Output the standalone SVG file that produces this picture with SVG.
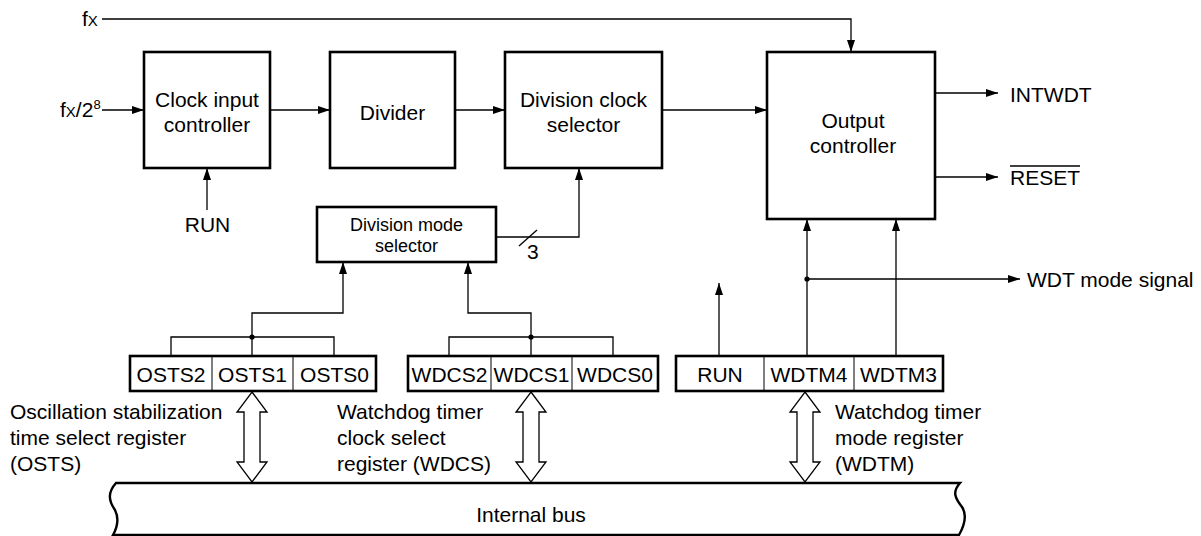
<svg xmlns="http://www.w3.org/2000/svg" width="1201" height="536" viewBox="0 0 1201 536">
<style>
text{font-family:"Liberation Sans",Arial,sans-serif;font-size:21px;fill:#000}
.c{text-anchor:middle}
.blk{fill:#fff;stroke:#000;stroke-width:2.6}
.reg{fill:#fff;stroke:#000;stroke-width:2.6}
.div{stroke:#000;stroke-width:1}
.ln{fill:none;stroke:#000;stroke-width:1.3}
.arr{fill:none;stroke:#000;stroke-width:1.3;marker-end:url(#ah)}
.dbl{fill:#fff;stroke:#000;stroke-width:1.3}
.sm{font-size:18px}
</style>
<defs>
<marker id="ah" markerUnits="userSpaceOnUse" markerWidth="12" markerHeight="8" refX="12" refY="4" orient="auto">
<path d="M0,0 L12,4 L0,8 z" fill="#000"/>
</marker>
</defs>

<g id="connectors">
<path class="arr" d="M102,19 H851 V52"/>
<path class="arr" d="M102,110 H144"/>
<path class="arr" d="M270,110 H330"/>
<path class="arr" d="M455,110 H505"/>
<path class="arr" d="M662,110 H767"/>
<path class="arr" d="M935,93 H998"/>
<path class="arr" d="M935,177 H998"/>
<path class="arr" d="M207,210 V168"/>
<path class="arr" d="M496,237 H579 V168"/>
<path class="ln" d="M519,246 L537,230"/>
<path class="ln" d="M171,356 V337 H334 V356 M252,356 V337"/>
<path class="arr" d="M252,337 V313 H343 V262"/>
<path class="ln" d="M449,356 V337 H613 V356 M531,356 V337"/>
<path class="arr" d="M531,337 V313 H468 V262"/>
<path class="arr" d="M719,356 V283"/>
<path class="arr" d="M807,356 V219"/>
<path class="arr" d="M896,356 V219"/>
<path class="arr" d="M807,279 H1020"/>
<circle cx="252" cy="337" r="2.6" fill="#000"/>
<circle cx="531" cy="337" r="2.6" fill="#000"/>
<circle cx="807" cy="279" r="2.6" fill="#000"/>
<polygon class="dbl" points="252,392 267,412 260,412 260,462 267,462 252,482 237,462 244,462 244,412 237,412"/>
<polygon class="dbl" points="531,392 546,412 539,412 539,462 546,462 531,482 516,462 523,462 523,412 516,412"/>
<polygon class="dbl" points="805,392 820,412 813,412 813,462 820,462 805,482 790,462 797,462 797,412 790,412"/>
</g>

<g id="labels">
<text x="82" y="26">f<tspan font-size="15">X</tspan></text>
<text x="60" y="117">f<tspan font-size="15">X</tspan>/2<tspan font-size="13" dy="-8">8</tspan></text>
<text x="1010" y="102">INTWDT</text>
<text x="1010" y="185">RESET</text>
<line x1="1010" y1="166" x2="1080" y2="166" stroke="#000" stroke-width="1.3"/>
<text class="c" x="207.5" y="232">RUN</text>
<text x="527" y="259">3</text>
<text x="1027" y="287">WDT mode signal</text>
<text x="10" y="419">Oscillation stabilization</text>
<text x="10" y="445">time select register</text>
<text x="10" y="471">(OSTS)</text>
<text x="337" y="419">Watchdog timer</text>
<text x="337" y="445">clock select</text>
<text x="337" y="471">register (WDCS)</text>
<text x="835" y="419">Watchdog timer</text>
<text x="835" y="445">mode register</text>
<text x="835" y="471">(WDTM)</text>
</g>

<g id="clock-input-controller">
<rect class="blk" x="144" y="52" width="126" height="116"/>
<text class="c" x="207" y="107">Clock input</text>
<text class="c" x="207" y="132">controller</text>
</g>
<g id="divider">
<rect class="blk" x="330" y="52" width="125" height="116"/>
<text class="c" x="392.5" y="120">Divider</text>
</g>
<g id="division-clock-selector">
<rect class="blk" x="505" y="52" width="157" height="116"/>
<text class="c" x="583.5" y="107">Division clock</text>
<text class="c" x="583.5" y="132">selector</text>
</g>
<g id="output-controller">
<rect class="blk" x="767" y="52" width="168" height="167"/>
<text class="c" x="853" y="128">Output</text>
<text class="c" x="853" y="153">controller</text>
</g>
<g id="division-mode-selector">
<rect class="blk" x="317" y="207" width="179" height="55"/>
<text class="c sm" x="406.5" y="231">Division mode</text>
<text class="c sm" x="406.5" y="252">selector</text>
</g>

<g id="osts-register">
<rect class="reg" x="130" y="356" width="246" height="35"/>
<line class="div" x1="212" y1="356" x2="212" y2="391"/>
<line class="div" x1="293" y1="356" x2="293" y2="391"/>
<text class="c" x="171" y="382">OSTS2</text>
<text class="c" x="252.5" y="382">OSTS1</text>
<text class="c" x="334.5" y="382">OSTS0</text>
</g>
<g id="wdcs-register">
<rect class="reg" x="408" y="356" width="250" height="35"/>
<line class="div" x1="491" y1="356" x2="491" y2="391"/>
<line class="div" x1="572" y1="356" x2="572" y2="391"/>
<text class="c" x="449.5" y="382">WDCS2</text>
<text class="c" x="531.5" y="382">WDCS1</text>
<text class="c" x="615" y="382">WDCS0</text>
</g>
<g id="wdtm-register">
<rect class="reg" x="676" y="356" width="267" height="35"/>
<line class="div" x1="764" y1="356" x2="764" y2="391"/>
<line class="div" x1="854" y1="356" x2="854" y2="391"/>
<text class="c" x="720" y="382">RUN</text>
<text class="c" x="809" y="382">WDTM4</text>
<text class="c" x="898.5" y="382">WDTM3</text>
</g>

<g id="internal-bus">
<path fill="#fff" stroke="#000" stroke-width="2.4" d="M116,483 H960 C952,492 955,498 962,507 C968,516 964,526 959,535 H113 C118,526 119,518 115,510 C108,500 108,492 116,483 Z"/>
<text class="c" x="531" y="522">Internal bus</text>
</g>
</svg>
